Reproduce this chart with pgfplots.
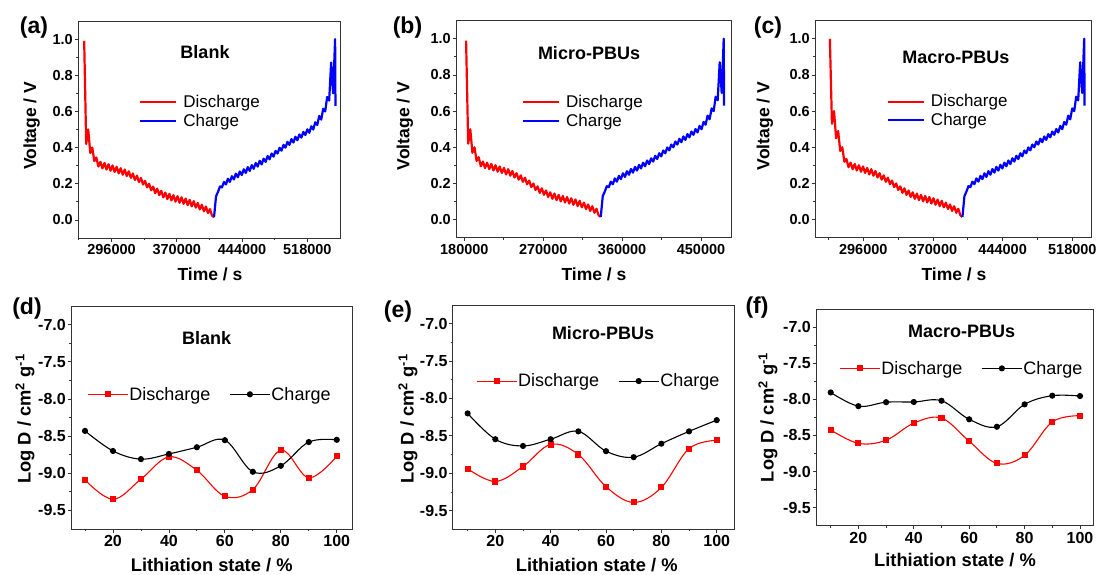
\documentclass[border=0pt]{standalone}
\usepackage{pgfplots}
\pgfplotsset{compat=1.18}
\usepackage{pgfplotstable}
\usepackage{fontspec}
\setmainfont{Liberation Sans}

% GITT discharge: time columns for panels a, b, c; voltage (va for a,b; vc for c)
\pgfplotstableread{
xa xb xc va vc
265000 182000 260500 0.99 1.00
267300 184400 262700 0.42 0.53
269600 186800 264900 0.50 0.60
271900 189200 267100 0.37 0.45
274200 191600 269300 0.40 0.49
276500 194000 271500 0.325 0.38
278800 196400 273700 0.345 0.40
281100 198800 275900 0.295 0.32
283400 201200 278100 0.321 0.335
285700 203600 280300 0.285 0.29
288000 206000 282500 0.315 0.315
290300 208400 284700 0.279 0.279
292600 210800 286900 0.308 0.308
294900 213200 289100 0.272 0.272
297200 215600 291300 0.301 0.301
299500 218000 293500 0.265 0.265
301800 220400 295700 0.294 0.294
304100 222800 297900 0.258 0.258
306400 225200 300100 0.286 0.286
308700 227600 302300 0.250 0.250
311000 230000 304500 0.279 0.279
313300 232400 306700 0.243 0.243
315600 234800 308900 0.269 0.269
317900 237200 311100 0.233 0.233
320200 239600 313300 0.257 0.257
322500 242000 315500 0.221 0.221
324800 244400 317700 0.245 0.245
327100 246800 319900 0.209 0.209
329400 249200 322100 0.232 0.232
331700 251600 324300 0.196 0.196
334000 254000 326500 0.216 0.216
336300 256400 328700 0.180 0.180
338600 258800 330900 0.200 0.200
340900 261200 333100 0.164 0.164
343200 263600 335300 0.184 0.184
345500 266000 337500 0.148 0.148
347800 268400 339700 0.173 0.173
350100 270800 341900 0.137 0.137
352400 273200 344100 0.161 0.161
354700 275600 346300 0.125 0.125
357000 278000 348500 0.151 0.151
359300 280400 350700 0.115 0.115
361600 282800 352900 0.144 0.144
363900 285200 355100 0.108 0.108
366200 287600 357300 0.137 0.137
368500 290000 359500 0.101 0.101
370800 292400 361700 0.131 0.131
373100 294800 363900 0.095 0.095
375400 297200 366100 0.125 0.125
377700 299600 368300 0.089 0.089
380000 302000 370500 0.118 0.118
382300 304400 372700 0.082 0.082
384600 306800 374900 0.111 0.111
386900 309200 377100 0.075 0.075
389200 311600 379300 0.104 0.104
391500 314000 381500 0.068 0.068
393800 316400 383700 0.094 0.094
396100 318800 385900 0.058 0.058
398400 321200 388100 0.084 0.084
400700 323600 390300 0.048 0.048
403000 326000 392500 0.074 0.074
405300 328400 394700 0.038 0.038
407600 330800 396900 0.060 0.060
409900 333200 399100 0.024 0.024
412200 335600 401300 0.015 0.015
}\dis

% GITT charge
\pgfplotstableread{
xa xb xc v
412200 335600 401300 0.015
414450 337900 403420 0.13
416700 340200 405540 0.155
418950 342500 407660 0.185
421200 344800 409780 0.18
423450 347100 411900 0.21
425700 349400 414020 0.196
427950 351700 416140 0.228
430200 354000 418260 0.21
432450 356300 420380 0.242
434700 358600 422500 0.224
436950 360900 424620 0.256
439200 363200 426740 0.236
441450 365500 428860 0.268
443700 367800 430980 0.248
445950 370100 433100 0.280
448200 372400 435220 0.26
450450 374700 437340 0.292
452700 377000 439460 0.271
454950 379300 441580 0.303
457200 381600 443700 0.283
459450 383900 445820 0.315
461700 386200 447940 0.295
463950 388500 450060 0.327
466200 390800 452180 0.307
468450 393100 454300 0.339
470700 395400 456420 0.321
472950 397700 458540 0.353
475200 400000 460660 0.335
477450 402300 462780 0.367
479700 404600 464900 0.35
481950 406900 467020 0.382
484200 409200 469140 0.367
486450 411500 471260 0.399
488700 413800 473380 0.383
490950 416100 475500 0.415
493200 418400 477620 0.40
495450 420700 479740 0.432
497700 423000 481860 0.415
499950 425300 483980 0.447
502200 427600 486100 0.428
504450 429900 488220 0.46
506700 432200 490340 0.441
508950 434500 492460 0.473
511200 436800 494580 0.455
513450 439100 496700 0.487
515700 441400 498820 0.469
517950 443700 500940 0.501
520200 446000 503060 0.482
522450 448300 505180 0.518
524700 450600 507300 0.50
526950 452900 509420 0.54
529200 455200 511540 0.525
531450 457500 513660 0.575
533700 459800 515780 0.555
535950 462100 517900 0.615
538200 464400 520020 0.60
540450 466700 522140 0.68
542700 469000 524260 0.66
544950 471300 526380 0.87
547200 473600 528500 0.70
549450 475900 530620 1.00
549850 476300 531020 0.63
}\chg

\newcommand\tkA{\bfseries\fontsize{14.5}{16}\selectfont}
\newcommand\tkB{\bfseries\fontsize{16}{18}\selectfont}

\pgfplotsset{
 base/.style={scale only axis, anchor=south west,
   axis line style={black!80, line width=0.9pt},
   every tick/.style={black!80, line width=0.8pt},
   tick align=outside, xtick pos=bottom, ytick pos=left,
   major tick length=3.5pt, minor tick length=2pt,
   /pgf/number format/assume math mode=true,
   legend cell align=left},
 top/.style={base, ymin=-0.1, ymax=1.1, ytick={0,0.2,0.4,0.6,0.8,1},
   minor ytick={0.1,0.3,0.5,0.7,0.9},
   scaled x ticks=false,
   xticklabel style={font=\tkA, /pgf/number format/fixed, /pgf/number format/precision=0, /pgf/number format/1000 sep={}, inner sep=2.5pt},
   yticklabel style={font=\tkA, /pgf/number format/fixed, /pgf/number format/fixed zerofill, /pgf/number format/precision=1, inner sep=1.5pt},
   legend style={draw=none, fill=none, anchor=west, inner sep=0pt, nodes={inner sep=1pt}, font=\fontsize{17}{19}\selectfont, row sep=3pt},
   legend image code/.code={\draw[##1, line width=2pt] (0pt,0pt) -- (36pt,0pt); \path (41pt,0pt);}},
 bot/.style={base, ymin=-9.75, ymax=-6.75, ytick={-9.5,-9,-8.5,-8,-7.5,-7},
   minor ytick={-9.25,-8.75,-8.25,-7.75,-7.25},
   xtick={20,40,60,80,100}, minor xtick={10,30,50,70,90},
   xticklabel style={font=\tkB, inner sep=2.5pt},
   yticklabel style={font=\tkB, /pgf/number format/fixed, /pgf/number format/fixed zerofill, /pgf/number format/precision=1, inner sep=1.5pt},
   legend columns=2,
   legend style={draw=none, fill=none, anchor=west, inner sep=0pt, nodes={inner sep=1pt}, font=\fontsize{18}{20}\selectfont, /tikz/every even column/.append style={column sep=18pt}},
   legend image code/.code={\draw[mark repeat=2, mark phase=2, ##1] plot coordinates {(0pt,0pt) (20pt,0pt) (40pt,0pt)};}},
 dline/.style={red, line width=2.2pt, line join=round},
 cline/.style={blue, line width=2.2pt, line join=round},
 rd/.style={red, line width=1.1pt, smooth, tension=0.6, mark=square*, mark size=2.5pt, mark options={solid}},
 bk/.style={black, line width=1.1pt, smooth, tension=0.6, mark=*, mark size=2.5pt, mark options={solid}},
}

\begin{document}
\begin{tikzpicture}
\useasboundingbox (0pt,0pt) rectangle (1099pt,-574pt);

% ---------- (a) ----------
\begin{axis}[top, at={(78pt,-238pt)}, width=262pt, height=217pt,
  xmin=258000, xmax=555000, xtick={296000,370000,444000,518000},
  minor xtick={259000,333000,407000,481000},
  legend style={at={(axis description cs:0.233,0.583)}}]
\addplot[dline] table[x=xa, y=va] {\dis};
\addlegendentry{Discharge}
\addplot[cline] table[x=xa, y=v] {\chg};
\addlegendentry{Charge}
\end{axis}

% ---------- (b) ----------
\begin{axis}[top, at={(456pt,-237.7pt)}, width=275.7pt, height=217pt,
  xmin=170500, xmax=485000, xtick={180000,270000,360000,450000},
  minor xtick={225000,315000,405000},
  legend style={at={(axis description cs:0.239,0.583)}}]
\addplot[dline] table[x=xb, y=va] {\dis};
\addlegendentry{Discharge}
\addplot[cline] table[x=xb, y=v] {\chg};
\addlegendentry{Charge}
\end{axis}

% ---------- (c) ----------
\begin{axis}[top, at={(815pt,-237.7pt)}, width=276.7pt, height=217pt,
  xmin=244700, xmax=538600, xtick={296000,370000,444000,518000},
  minor xtick={259000,333000,407000,481000},
  legend style={at={(axis description cs:0.259,0.584)}}]
\addplot[dline] table[x=xc, y=vc] {\dis};
\addlegendentry{Discharge}
\addplot[cline] table[x=xc, y=v] {\chg};
\addlegendentry{Charge}
\end{axis}

% ---------- (d) ----------
\begin{axis}[bot, at={(71pt,-529pt)}, width=281.7pt, height=223pt,
  xmin=5, xmax=105.7,
  legend style={at={(axis description cs:0.057,0.604)}}]
\addplot[rd] coordinates {(10,-9.09) (20,-9.35) (30,-9.08) (40,-8.78) (50,-8.96) (60,-9.31) (70,-9.22) (80,-8.69) (90,-9.06) (100,-8.77)};
\addlegendentry{Discharge}
\addplot[bk] coordinates {(10,-8.43) (20,-8.70) (30,-8.81) (40,-8.74) (50,-8.65) (60,-8.555) (70,-8.98) (80,-8.90) (90,-8.58) (100,-8.55)};
\addlegendentry{Charge}
\end{axis}

% ---------- (e) ----------
\begin{axis}[bot, at={(452.7pt,-529.3pt)}, width=282pt, height=224.3pt,
  xmin=4.6, xmax=106.5,
  legend style={at={(axis description cs:0.082,0.661)}}]
\addplot[rd] coordinates {(10,-8.94) (20,-9.11) (30,-8.91) (40,-8.615) (50,-8.75) (60,-9.18) (70,-9.39) (80,-9.19) (90,-8.67) (100,-8.56)};
\addlegendentry{Discharge}
\addplot[bk] coordinates {(10,-8.20) (20,-8.545) (30,-8.635) (40,-8.545) (50,-8.44) (60,-8.705) (70,-8.785) (80,-8.605) (90,-8.44) (100,-8.29)};
\addlegendentry{Charge}
\end{axis}

% ---------- (f) ----------
\begin{axis}[bot, at={(816pt,-525.7pt)}, width=277pt, height=216.7pt,
  xmin=4.7, xmax=104.7,
  legend style={at={(axis description cs:0.083,0.726)}}]
\addplot[rd] coordinates {(10,-8.423) (20,-8.61) (30,-8.566) (40,-8.33) (50,-8.26) (60,-8.58) (70,-8.887) (80,-8.776) (90,-8.313) (100,-8.227)};
\addlegendentry{Discharge}
\addplot[bk] coordinates {(10,-7.905) (20,-8.095) (30,-8.04) (40,-8.037) (50,-8.02) (60,-8.277) (70,-8.38) (80,-8.07) (90,-7.95) (100,-7.955)};
\addlegendentry{Charge}
\end{axis}

% ---------- text ----------
\tikzset{pl/.style={inner sep=0pt, font=\bfseries\fontsize{23}{26}\selectfont},
  ttl/.style={inner sep=0pt, font=\bfseries\fontsize{18}{20}\selectfont},
  lbA/.style={inner sep=0pt, font=\bfseries\fontsize{17.5}{20}\selectfont},
  lbB/.style={inner sep=0pt, font=\bfseries\fontsize{18.3}{21}\selectfont}}
\node[pl] at (34pt,-28pt) {(a)};
\node[pl] at (407.5pt,-28pt) {(b)};
\node[pl] at (768pt,-28pt) {(c)};
\node[pl] at (27pt,-309pt) {(d)};
\node[pl] at (398pt,-312pt) {(e)};
\node[pl] at (757pt,-308pt) {(f)};

\node[ttl] at (205pt,-51.7pt) {Blank};
\node[ttl] at (589pt,-53pt) {Micro-PBUs};
\node[ttl] at (955.8pt,-57pt) {Macro-PBUs};
\node[ttl] at (206.7pt,-338pt) {Blank};
\node[ttl] at (603pt,-333pt) {Micro-PBUs};
\node[ttl] at (961.7pt,-331.7pt) {Macro-PBUs};

\node[lbA, rotate=90] at (31.7pt,-125.8pt) {Voltage / V};
\node[lbA, rotate=90] at (405pt,-126pt) {Voltage / V};
\node[lbA, rotate=90] at (765pt,-126pt) {Voltage / V};
\node[lbA] at (210pt,-274pt) {Time / s};
\node[lbA] at (594pt,-274pt) {Time / s};
\node[lbA] at (954pt,-274pt) {Time / s};

\node[lbB, rotate=90] at (25pt,-419pt) {Log D / cm\textsuperscript{2} g\textsuperscript{-1}};
\node[lbB, rotate=90] at (408pt,-419pt) {Log D / cm\textsuperscript{2} g\textsuperscript{-1}};
\node[lbB, rotate=90] at (768pt,-417.5pt) {Log D / cm\textsuperscript{2} g\textsuperscript{-1}};
\node[lbB] at (211.7pt,-565pt) {Lithiation state / \%};
\node[lbB] at (596.7pt,-565pt) {Lithiation state / \%};
\node[lbB] at (955pt,-560pt) {Lithiation state / \%};
\end{tikzpicture}
\end{document}
